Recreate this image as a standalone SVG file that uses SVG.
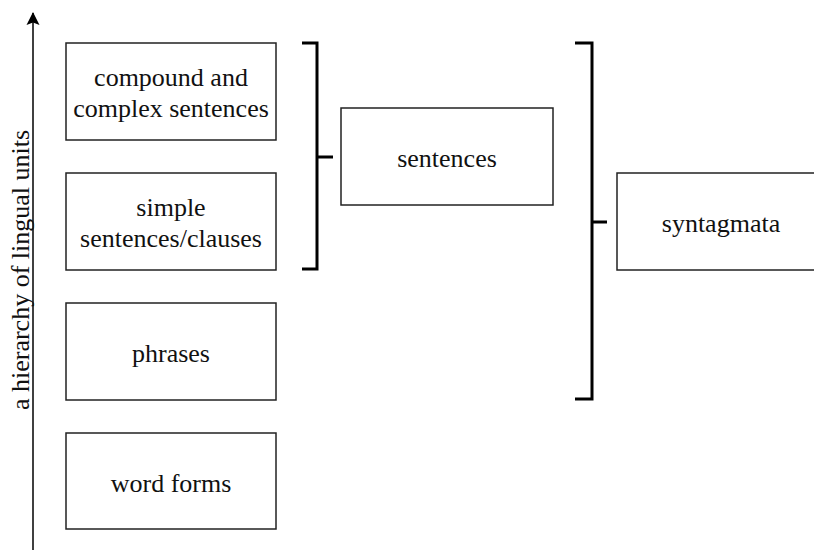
<svg xmlns="http://www.w3.org/2000/svg" width="814" height="555" viewBox="0 0 814 555">
<defs>
<style>
.box{fill:#fff;stroke:#222;stroke-width:1.5}
.t{font-family:"Liberation Serif","Times New Roman",serif;font-size:26px;fill:#111;text-anchor:middle}
.br{fill:none;stroke:#000;stroke-width:3}
.ax{stroke:#000;stroke-width:1.5;fill:none}
</style>
<marker id="arr" markerWidth="14" markerHeight="14" refX="12" refY="7" orient="auto" markerUnits="userSpaceOnUse">
<path d="M0,0.5 L13,7 L0,13.5 L2.5,7 Z" fill="#000"/>
</marker>
</defs>
<g id="connectors">
<line class="ax" x1="33" y1="550" x2="33" y2="13" marker-end="url(#arr)"/>
<path class="br" d="M302,43 H317 V269 H302 M317,157 H333"/>
<path class="br" d="M575,43 H592 V399 H575 M592,222 H607"/>
</g>
<g id="axis-label">
<text class="t" transform="translate(29,270) rotate(-90)">a hierarchy of lingual units</text>
</g>
<g id="n-compound">
<rect class="box" x="66" y="43" width="210" height="97"/>
<text class="t" x="171" y="86">compound and</text>
<text class="t" x="171" y="117">complex sentences</text>
</g>
<g id="n-simple">
<rect class="box" x="66" y="173" width="210" height="97"/>
<text class="t" x="171" y="216">simple</text>
<text class="t" x="171" y="247">sentences/clauses</text>
</g>
<g id="n-phrases">
<rect class="box" x="66" y="303" width="210" height="97"/>
<text class="t" x="171" y="362">phrases</text>
</g>
<g id="n-wordforms">
<rect class="box" x="66" y="433" width="210" height="96"/>
<text class="t" x="171" y="492">word forms</text>
</g>
<g id="n-sentences">
<rect class="box" x="341" y="108" width="212" height="97"/>
<text class="t" x="447" y="167">sentences</text>
</g>
<g id="n-syntagmata">
<rect class="box" x="617" y="173" width="200" height="97"/>
<text class="t" x="721" y="232">syntagmata</text>
</g>
</svg>
